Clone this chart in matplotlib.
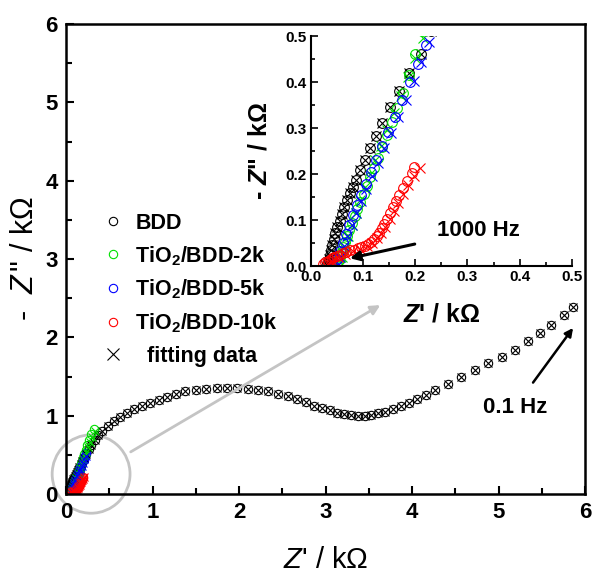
import matplotlib
matplotlib.use('Agg')
import matplotlib.pyplot as plt
from matplotlib.patches import Ellipse
from matplotlib.ticker import MultipleLocator

plt.rcParams['font.family'] = ['Liberation Sans', 'DejaVu Sans']
plt.rcParams['mathtext.fontset'] = 'custom'
plt.rcParams['mathtext.rm'] = 'Liberation Sans'
plt.rcParams['mathtext.it'] = 'Liberation Sans:italic'
plt.rcParams['mathtext.bf'] = 'Liberation Sans:bold'
plt.rcParams['mathtext.bfit'] = 'Liberation Sans:bold:italic'

# BDD electrode (Z' and -Z'' in kOhm)
bdd_x = [0.030, 0.032, 0.034, 0.036, 0.038, 0.041, 0.044, 0.047, 0.051, 0.055,
         0.059, 0.064, 0.069, 0.075, 0.080, 0.086, 0.094, 0.103, 0.113, 0.124,
         0.136, 0.151, 0.168, 0.189, 0.212, 0.23, 0.26, 0.29, 0.33, 0.37, 0.42,
         0.48, 0.55, 0.62, 0.70, 0.79, 0.88, 0.97, 1.07, 1.17, 1.27, 1.38, 1.50,
         1.62, 1.74, 1.86, 1.98, 2.10, 2.22, 2.34, 2.45, 2.56, 2.67, 2.77, 2.87,
         2.96, 3.05, 3.13, 3.21, 3.29, 3.37, 3.45, 3.53, 3.61, 3.69, 3.78, 3.87,
         3.96, 4.06, 4.16, 4.27, 4.42, 4.57, 4.73, 4.88, 5.04, 5.19, 5.34, 5.48,
         5.61, 5.75, 5.86]
bdd_y = [0.000, 0.008, 0.016, 0.025, 0.035, 0.046, 0.058, 0.071, 0.085, 0.099,
         0.113, 0.128, 0.143, 0.158, 0.172, 0.187, 0.209, 0.230, 0.256, 0.283,
         0.310, 0.345, 0.381, 0.419, 0.462, 0.51, 0.57, 0.63, 0.69, 0.75, 0.81,
         0.87, 0.93, 0.98, 1.03, 1.08, 1.12, 1.16, 1.20, 1.24, 1.28, 1.31, 1.33,
         1.34, 1.35, 1.35, 1.35, 1.34, 1.33, 1.31, 1.28, 1.25, 1.21, 1.17, 1.13,
         1.10, 1.07, 1.04, 1.02, 1.01, 1.00, 1.00, 1.01, 1.03, 1.05, 1.08, 1.12,
         1.16, 1.21, 1.26, 1.33, 1.41, 1.50, 1.58, 1.67, 1.75, 1.84, 1.95, 2.05,
         2.16, 2.28, 2.39]

# TiO2/BDD-2k
g_x = [0.050, 0.053, 0.056, 0.059, 0.062, 0.066, 0.070, 0.074, 0.079, 0.084,
       0.089, 0.095, 0.101, 0.107, 0.114, 0.121, 0.129, 0.137, 0.146, 0.156,
       0.166, 0.177, 0.188, 0.200, 0.213, 0.228, 0.245, 0.265, 0.290, 0.320]
g_y = [0.002, 0.010, 0.020, 0.030, 0.041, 0.053, 0.066, 0.079, 0.093, 0.108,
       0.123, 0.139, 0.156, 0.174, 0.193, 0.213, 0.235, 0.259, 0.285, 0.313,
       0.343, 0.377, 0.415, 0.460, 0.510, 0.565, 0.625, 0.690, 0.760, 0.830]
g_fit_x = [0.055, 0.060, 0.066, 0.072, 0.079, 0.087, 0.095, 0.104, 0.113, 0.123,
           0.134, 0.146, 0.159, 0.172, 0.186, 0.200, 0.215, 0.232, 0.252, 0.275,
           0.300, 0.330]
g_fit_y = [0.000, 0.020, 0.042, 0.065, 0.090, 0.116, 0.143, 0.171, 0.200, 0.230,
           0.262, 0.296, 0.332, 0.370, 0.410, 0.452, 0.495, 0.540, 0.600, 0.665,
           0.730, 0.800]

# TiO2/BDD-5k
b_x = [0.045, 0.050, 0.055, 0.061, 0.067, 0.074, 0.081, 0.089, 0.097, 0.106,
       0.115, 0.125, 0.136, 0.148, 0.161, 0.175, 0.190, 0.205, 0.220, 0.235]
b_y = [0.000, 0.015, 0.032, 0.050, 0.069, 0.089, 0.110, 0.132, 0.155, 0.179,
       0.204, 0.231, 0.260, 0.291, 0.325, 0.362, 0.400, 0.440, 0.480, 0.520]
b_fit_x = [0.050, 0.056, 0.063, 0.070, 0.078, 0.087, 0.096, 0.106, 0.117, 0.128,
           0.140, 0.153, 0.167, 0.182, 0.197, 0.212, 0.227]
b_fit_y = [0.000, 0.020, 0.043, 0.066, 0.090, 0.115, 0.141, 0.168, 0.196, 0.225,
           0.256, 0.289, 0.324, 0.362, 0.402, 0.444, 0.487]

# TiO2/BDD-10k
r_x = [0.024, 0.028, 0.032, 0.036, 0.040, 0.045, 0.050, 0.056, 0.062, 0.068,
       0.075, 0.082, 0.090, 0.097, 0.104, 0.110, 0.116, 0.121, 0.126, 0.131,
       0.136, 0.141, 0.146, 0.151, 0.157, 0.163, 0.169, 0.176, 0.184, 0.193,
       0.198]
r_y = [0.004, 0.008, 0.011, 0.014, 0.017, 0.020, 0.022, 0.025, 0.028, 0.031,
       0.034, 0.036, 0.039, 0.041, 0.044, 0.047, 0.052, 0.058, 0.065, 0.073,
       0.082, 0.092, 0.103, 0.115, 0.128, 0.141, 0.155, 0.170, 0.186, 0.203,
       0.215]
r_fit_x = [0.030, 0.040, 0.052, 0.066, 0.080, 0.094, 0.107, 0.118, 0.127, 0.135,
           0.143, 0.151, 0.159, 0.167, 0.176, 0.186, 0.197, 0.209]
r_fit_y = [0.000, 0.012, 0.020, 0.027, 0.033, 0.038, 0.043, 0.050, 0.060, 0.072,
           0.086, 0.102, 0.119, 0.137, 0.156, 0.176, 0.195, 0.213]

series = [
    (bdd_x, bdd_y, bdd_x, bdd_y, 'black', 'BDD'),
    (g_x, g_y, g_fit_x, g_fit_y, '#00e000', r'TiO$_\mathbf{2}$/BDD-2k'),
    (b_x, b_y, b_fit_x, b_fit_y, '#0000ff', r'TiO$_\mathbf{2}$/BDD-5k'),
    (r_x, r_y, r_fit_x, r_fit_y, '#ff0000', r'TiO$_\mathbf{2}$/BDD-10k'),
]

fig = plt.figure(figsize=(5.92, 5.81), dpi=100)
ax = fig.add_axes([0.1115, 0.1497, 0.877, 0.809])

for x, y, fx, fy, c, lab in series:
    ax.plot(x, y, 'o', ms=6, mfc='none', mec=c, mew=0.8, label=lab)
for x, y, fx, fy, c, lab in series:
    ax.plot(fx, fy, 'x', ms=6, c=c, mew=0.8)
# legend proxy for the fits
ax.plot([], [], 'x', ms=8, c='black', mew=0.8, label='  fitting data')

ax.set_xlim(0, 6)
ax.set_ylim(0, 6)
ax.xaxis.set_major_locator(MultipleLocator(1))
ax.xaxis.set_minor_locator(MultipleLocator(0.5))
ax.yaxis.set_major_locator(MultipleLocator(1))
ax.yaxis.set_minor_locator(MultipleLocator(0.5))
ax.tick_params(which='both', direction='in', width=1.5)
ax.tick_params(which='major', length=6, labelsize=16, pad=6)
ax.tick_params(which='minor', length=4)
for lbl in ax.get_xticklabels() + ax.get_yticklabels():
    lbl.set_fontweight('bold')
for s in ax.spines.values():
    s.set_linewidth(1.8)
ax.set_xlabel("$Z$' / kΩ", fontsize=21, labelpad=16)
ax.set_ylabel(r'-  $Z\,$" / kΩ', fontsize=22, labelpad=4)

leg = ax.legend(loc='upper left', bbox_to_anchor=(0.04, 0.617), frameon=False,
                prop={'weight': 'bold', 'size': 15.5}, handletextpad=0.25,
                labelspacing=0.48, borderaxespad=0, handlelength=1.6)

# zoom marker and arrow
ax.add_patch(Ellipse((0.29, 0.255), 0.90, 1.0, fill=False, ec='#c4c4c4', lw=2,
                     clip_on=False))
ax.annotate('', xy=(3.66, 2.43), xytext=(0.72, 0.52),
            arrowprops=dict(arrowstyle='-|>', color='#c4c4c4', lw=2,
                            mutation_scale=14))
ax.annotate('0.1 Hz', xy=(5.86, 2.12), xytext=(5.19, 1.11), ha='center',
            va='center', fontsize=16, fontweight='bold',
            arrowprops=dict(arrowstyle='-|>', color='black', lw=1.8,
                            mutation_scale=12, shrinkA=10, shrinkB=0))

# inset
ins = fig.add_axes([0.525, 0.542, 0.441, 0.396])
ins.patch.set_alpha(0)
for x, y, fx, fy, c, lab in series:
    ins.plot(x, y, 'o', ms=7, mfc='none', mec=c, mew=0.8, clip_on=True)
    ins.plot(fx, fy, 'x', ms=7, c=c, mew=0.8)
ins.set_xlim(0, 0.5)
ins.set_ylim(0, 0.5)
ins.spines['top'].set_visible(False)
ins.spines['right'].set_visible(False)
for s in ['left', 'bottom']:
    ins.spines[s].set_linewidth(1.5)
ins.xaxis.set_major_locator(MultipleLocator(0.1))
ins.xaxis.set_minor_locator(MultipleLocator(0.05))
ins.yaxis.set_major_locator(MultipleLocator(0.1))
ins.yaxis.set_minor_locator(MultipleLocator(0.05))
ins.tick_params(which='both', direction='in', width=1.2)
ins.tick_params(which='major', length=5, labelsize=11, pad=3)
ins.tick_params(which='minor', length=3)
for lbl in ins.get_xticklabels() + ins.get_yticklabels():
    lbl.set_fontweight('bold')
ins.set_xlabel(r"$\mathbfit{Z}$' / kΩ", fontsize=18, fontweight='bold',
               labelpad=13)
ins.set_ylabel(r'- $\mathbfit{Z}$" / kΩ', fontsize=18, fontweight='bold',
               labelpad=10)
ins.annotate('1000 Hz', xy=(0.075, 0.017), xytext=(0.32, 0.078), ha='center',
             va='center', fontsize=16, fontweight='bold',
             arrowprops=dict(arrowstyle='-|>', color='black', lw=2.2,
                             mutation_scale=14, shrinkA=14, shrinkB=0))

fig.savefig('out.png', dpi=100)
